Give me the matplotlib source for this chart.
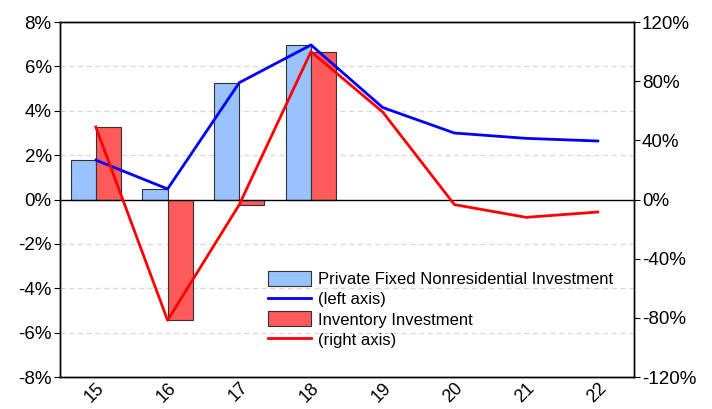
import matplotlib
matplotlib.use('Agg')
import matplotlib.pyplot as plt
from matplotlib.patches import Patch
from matplotlib.lines import Line2D
from matplotlib.ticker import FuncFormatter
import numpy as np

plt.rcParams['font.family'] = ['Liberation Sans', 'DejaVu Sans']

# data (percent)
years = ['15', '16', '17', '18', '19', '20', '21', '22']
fixed_invest = [1.78, 0.48, 5.27, 6.97, 4.15, 3.0, 2.76, 2.64]   # left axis
inventory = [49.0, -81.6, -3.4, 100.0, 59.2, -3.4, -12.0, -8.4]  # right axis
n_bars = 4  # bars only for 15-18

blue_bar = '#99C2FF'
red_bar = '#FF5B5B'

fig, ax = plt.subplots(figsize=(7.12, 4.09), dpi=100)
fig.subplots_adjust(left=0.0843, right=0.890, top=0.946, bottom=0.078)
ax2 = ax.twinx()

x = np.arange(len(years))
w = 0.35
scale = 15.0  # right axis / left axis

ax.bar(x[:n_bars] - w / 2, fixed_invest[:n_bars], w, color=blue_bar,
       edgecolor='#333333', linewidth=0.8, zorder=2)
ax.bar(x[:n_bars] + w / 2, np.array(inventory[:n_bars]) / scale, w, color=red_bar,
       edgecolor='#333333', linewidth=0.8, zorder=2)
ax.plot(x, fixed_invest, color='#0000FF', linewidth=2, zorder=3)
ax2.plot(x, inventory, color='#FF0000', linewidth=2, zorder=3)

ax.axhline(0, color='black', linewidth=1, zorder=2.5)
for g in [-6, -4, -2, 2, 4, 6]:
    ax.axhline(g, color='#d8d8d8', linewidth=0.9, linestyle=(0, (4, 3)), zorder=0)

ax.set_xlim(-0.5, len(years) - 0.5)
ax.set_ylim(-8, 8)
ax.set_yticks(range(-8, 9, 2))
ax.yaxis.set_major_formatter(FuncFormatter(lambda v, p: f'{v:.0f}%'))
ax2.set_ylim(-120, 120)
ax2.set_yticks(range(-120, 121, 40))
ax2.yaxis.set_major_formatter(FuncFormatter(lambda v, p: f'{v:.0f}%'))

ax.set_xticks(x)
ax.set_xticklabels(years, rotation=45, ha='right', rotation_mode='anchor')
ax.tick_params(axis='x', length=0, pad=1.5, labelsize=13)
ax.tick_params(axis='y', direction='out', length=4, labelsize=13.5, pad=2)
ax2.tick_params(axis='y', direction='out', length=4, labelsize=13.5, pad=2)

for a in (ax, ax2):
    for s in a.spines.values():
        s.set_linewidth(1)
        s.set_color('black')

handles = [
    Patch(facecolor=blue_bar, edgecolor='#333333', linewidth=0.8),
    Line2D([0], [0], color='#0000FF', linewidth=2),
    Patch(facecolor=red_bar, edgecolor='#333333', linewidth=0.8),
    Line2D([0], [0], color='#FF0000', linewidth=2),
]
labels = ['Private Fixed Nonresidential Investment', '(left axis)',
          'Inventory Investment', '(right axis)']
ax2.legend(handles, labels, loc='upper left', bbox_to_anchor=(261 / 712, 1 - 264 / 409),
           bbox_transform=fig.transFigure, frameon=False, fontsize=12,
           handlelength=2.6, handleheight=1.0, handletextpad=0.4,
           labelspacing=0.25, borderaxespad=0)

plt.savefig('out.png', dpi=100)
